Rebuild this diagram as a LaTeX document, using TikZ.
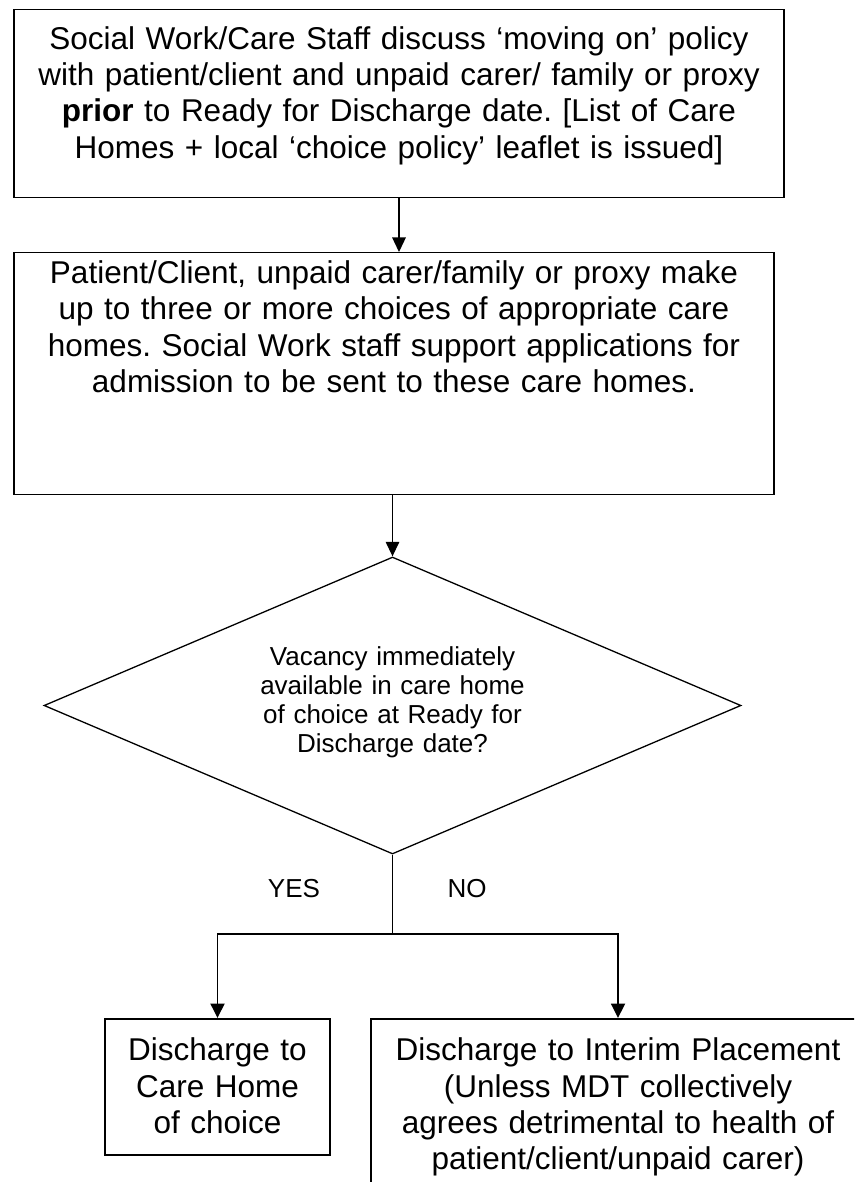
\documentclass[tikz,border=0pt]{standalone}
\usepackage{fontspec}
\setmainfont{Liberation Sans}
\frenchspacing
\usetikzlibrary{shapes.geometric,arrows.meta}
\begin{document}
\begin{tikzpicture}[x=1pt,y=-1pt,
  box/.style={draw=black, line width=1.3pt, rectangle, inner ysep=0pt, inner xsep=2pt, align=center,
    font=\frenchspacing\fontsize{31.5}{36.3}\selectfont},
  botbox/.style={box, line width=1.6pt},
  decision/.style={draw=black, line width=1.3pt, diamond, aspect=2.347, inner sep=0pt,
    minimum width=697pt, minimum height=297pt, align=center, text width=320pt,
    font=\frenchspacing\fontsize{26}{29.3}\selectfont},
  arrow/.style={line width=1.3pt, -{Triangle[length=14.5pt,width=13.5pt]}},
  barrow/.style={line width=1.9pt, -{Triangle[length=14.5pt,width=14pt]}},
  lbl/.style={inner sep=0pt, font=\fontsize{26}{29.3}\selectfont}]
\clip (0,0) rectangle (854,1182);
\fill[white] (0,0) rectangle (854,1182);

\node[box, anchor=north, text width=766pt, text height=39.5pt, text depth=148.5pt] (b1) at (399,9)
  {Social Work/Care Staff discuss ‘moving on’ policy\\
   with patient/client and unpaid carer/ family or proxy\\
   \textbf{prior} to Ready for Discharge date. [List of Care\\
   Homes + local ‘choice policy’ leaflet is issued]};

\node[box, anchor=north, text width=756pt, text height=31pt, text depth=211pt] (b2) at (394,252)
  {Patient/Client, unpaid carer/family or proxy make\\
   up to three or more choices of appropriate care\\
   homes. Social Work staff support applications for\\
   admission to be sent to these care homes.};

\node[decision, text height=20pt, text depth=101pt] (d) at (392.5,705.5)
  {Vacancy immediately\\
   available in care home\\
   of choice at Ready for\\
   Discharge date?};

\node[botbox, anchor=north, text width=221pt, text height=42pt, text depth=94pt] (lb) at (217.5,1018)
  {Discharge to\\ Care Home\\ of choice};

\node[botbox, anchor=north, text width=490pt, text height=42pt, text depth=200pt] (rb) at (618,1018)
  {Discharge to Interim Placement\\
   (Unless MDT collectively\\
   agrees detrimental to health of\\
   patient/client/unpaid carer)};

\coordinate (split) at (392.5,934);

\node[lbl] (yes) at (294,889) {YES};
\node[lbl] (no) at (467,889) {NO};

\draw[arrow] (b1.south) -- (b1.south |- b2.north);
\draw[arrow] (d.north |- b2.south) -- (d.north);
\draw[line width=1.1pt] (d.south) -- (split);
\draw[barrow] (split) -| (lb.north);
\draw[barrow] (split) -| (rb.north);
\end{tikzpicture}
\end{document}
